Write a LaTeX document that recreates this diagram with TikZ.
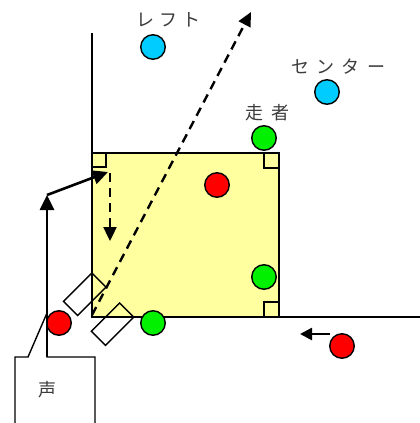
\documentclass[tikz,border=0pt]{standalone}
\usepackage{fontspec}
\newfontfamily\jp{Noto Sans CJK JP}
\usetikzlibrary{arrows.meta}
\definecolor{fieldyellow}{RGB}{255,255,160}
\definecolor{pred}{RGB}{255,0,0}
\definecolor{pgreen}{RGB}{0,240,0}
\definecolor{pblue}{RGB}{0,204,255}
\definecolor{txtgray}{RGB}{60,60,60}
\tikzset{
  player/.style={circle,draw=black,line width=1.4pt,minimum size=24.5pt,inner sep=0pt},
  lbl/.style={font=\jp\fontsize{18}{18}\selectfont,text=txtgray,inner sep=0pt},
  arr/.style={line width=2.6pt,-{Triangle[length=15pt,width=14pt]}},
  darr/.style={line width=2.4pt,dash pattern=on 9pt off 6pt,-{Triangle[length=14pt,width=13pt]}},
  mark90/.style={line width=1.4pt},
  pad/.style={draw=black,line width=1.4pt,minimum width=40pt,minimum height=20pt,inner sep=0pt,rotate=45}
}
\begin{document}
\begin{tikzpicture}[x=1pt,y=-1pt]
\useasboundingbox (0,0) rectangle (420,423);
% field square
\coordinate (sqTL) at (92,153);
\coordinate (sqBR) at (279,317);
\fill[fieldyellow] (sqTL) rectangle (sqBR);
\draw[line width=1.8pt] (92,33) -- (92,317) -- (279,317) -- (279,153) -- (92,153);
\draw[line width=1.4pt] (279,317) -- (420,317);
% right-angle marks
\draw[mark90] (92,167) -- (106,167) -- (106,153);
\draw[mark90] (264,153) -- (264,168) -- (279,168);
\draw[mark90] (264,317) -- (264,302) -- (279,302);
% pads
\node[pad] (padA) at (84.7,294.2) {};
\node[pad] (padB) at (112.5,324.2) {};
% long dashed arrow
\coordinate (dStart) at (92,315);
\coordinate (dEnd) at (251,12);
\draw[darr] (dStart) -- (dEnd);
% players
\node[player,fill=pblue] (left) at (153,47) {};
\node[player,fill=pblue] (center) at (327,92) {};
\node[player,fill=pgreen] (runner) at (264,138) {};
\node[player,fill=pgreen] (g2) at (264,277) {};
\node[player,fill=pgreen] (g3) at (153,323) {};
\node[player,fill=pred] (r1) at (217,185) {};
\node[player,fill=pred] (r2) at (59,323) {};
\node[player,fill=pred] (r3) at (342,346) {};
% labels
\node[lbl] (lLeft) at (168.5,20) {\addfontfeature{LetterSpace=30}レフト};
\node[lbl] (lCenter) at (338.5,67) {\addfontfeature{LetterSpace=39}センター};
\node[lbl] (lRunner) at (267.5,113) {\addfontfeature{LetterSpace=44}走者};
% speech bubble
\coordinate (bTip) at (47,313);
\coordinate (bBase) at (47,357);
\draw[line width=1.4pt] (15,423) -- (15,357) -- (28,357) -- (bTip) -- (bBase) -- (95,357) -- (95,423);
\node[lbl] (voice) at (47,390) {声};
% arrows
\coordinate (a1) at (47,195);
\coordinate (a2) at (108,172);
\coordinate (a3) at (110,173);
\coordinate (a4) at (110,241);
\draw[arr] (bBase) -- (a1);
\draw[arr] (a1) -- (a2);
\draw[darr] (a3) -- (a4);
\coordinate (r3a) at (330,334);
\coordinate (r3b) at (300,334);
\draw[line width=2.6pt,-{Triangle[length=12pt,width=12pt]}] (r3a) -- (r3b);
\end{tikzpicture}
\end{document}
